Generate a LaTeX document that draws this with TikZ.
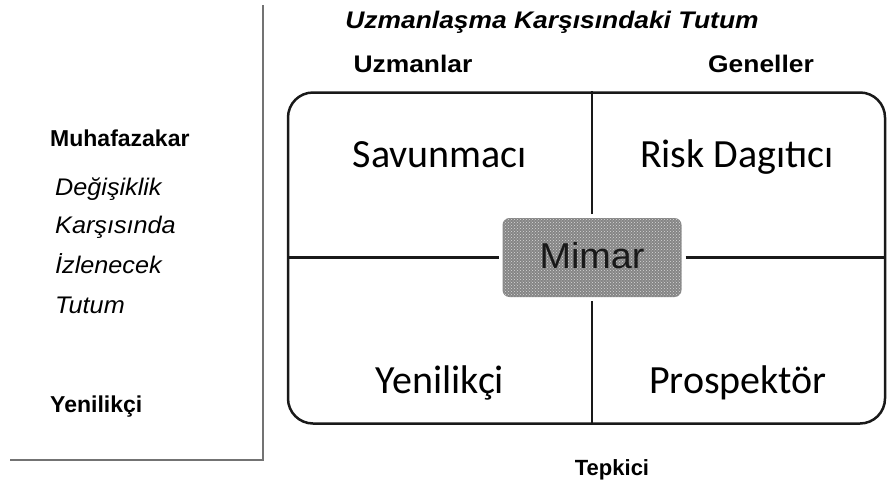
\documentclass[tikz,border=0pt]{standalone}
\usepackage{fontspec}
\setmainfont{Liberation Sans}
\newfontfamily\widesans[FakeStretch=1.1]{Liberation Sans}
\newfontfamily\sidesans[FakeStretch=1.05]{Liberation Sans}
\newfontfamily\quadfont{Carlito}
\usetikzlibrary{patterns}

\tikzset{
  head/.style={inner sep=0pt, anchor=base, font=\fontsize{24}{28}\selectfont\widesans\bfseries},
  lbl/.style={inner sep=0pt, anchor=base west, font=\fontsize{23}{27}\selectfont\bfseries},
  side/.style={inner sep=0pt, anchor=base west, font=\fontsize{24}{28}\selectfont\sidesans\itshape},
  quad/.style={inner sep=0pt, anchor=base, font=\fontsize{40}{46}\selectfont\quadfont},
  divider/.style={line width=2.3pt, black!90},
  axis/.style={line width=2.4pt, black!55},
}

\begin{document}
\begin{tikzpicture}[x=1pt, y=-1pt]
  \useasboundingbox (0,0) rectangle (889,488);

  % axis frame on the left
  \coordinate (axtop) at (263,5);
  \coordinate (axcorner) at (263,460);
  \coordinate (axleft) at (10,460);
  \draw[axis] (axtop) -- (axcorner) -- (axleft);

  % headings
  \node[head, font=\fontsize{24}{28}\selectfont\widesans\bfseries\itshape] (title) at (552,28) {Uzmanlaşma Karşısındaki Tutum};
  \node[head] (uzm) at (413,72) {Uzmanlar};
  \node[head] (gen) at (761,72) {Geneller};
  \node[head, font=\fontsize{22}{26}\selectfont\bfseries] (tep) at (612,475) {Tepkici};

  % left-hand scale
  \node[lbl] (muh) at (50,146) {Muhafazakar};
  \node[side] (s1) at (55,195) {Değişiklik};
  \node[side] (s2) at (55,233) {Karşısında};
  \node[side] (s3) at (55,273) {İzlenecek};
  \node[side] (s4) at (55,313) {Tutum};
  \node[lbl] (yen) at (50,412) {Yenilikçi};

  % the matrix
  \node[draw, line width=2.5pt, draw=black!90, rounded corners=25pt, minimum width=597pt, minimum height=331pt, inner sep=0pt] (frame) at (586.5,258) {};
  \node[fill=black!48, rounded corners=7pt, minimum width=179pt, minimum height=79pt, inner sep=0pt, outer sep=4pt] (mimar) at (592,257.5) {};
  \fill[pattern=crosshatch dots, pattern color=black!15, rounded corners=7pt]
    ([xshift=4pt,yshift=4pt]mimar.south west) rectangle ([xshift=-4pt,yshift=-4pt]mimar.north east);
  \node[anchor=base, inner sep=0pt, font=\fontsize{36}{42}\selectfont\sidesans, text=black!90] (mimartxt) at (592,268) {Mimar};

  \draw[divider] (mimar.north) -- (mimar.north |- frame.north);
  \draw[divider] (mimar.south) -- (mimar.south |- frame.south);
  \draw[divider] (mimar.west) -- (mimar.west -| frame.west);
  \draw[divider] (mimar.east) -- (mimar.east -| frame.east);

  \node[quad] (q1) at (440,167) {Savunmacı};
  \node[quad] (q2) at (737,167) {Risk Dagıtıcı};
  \node[quad] (q3) at (440,393) {Yenilikçi};
  \node[quad] (q4) at (738,393) {Prospektör};
\end{tikzpicture}
\end{document}
